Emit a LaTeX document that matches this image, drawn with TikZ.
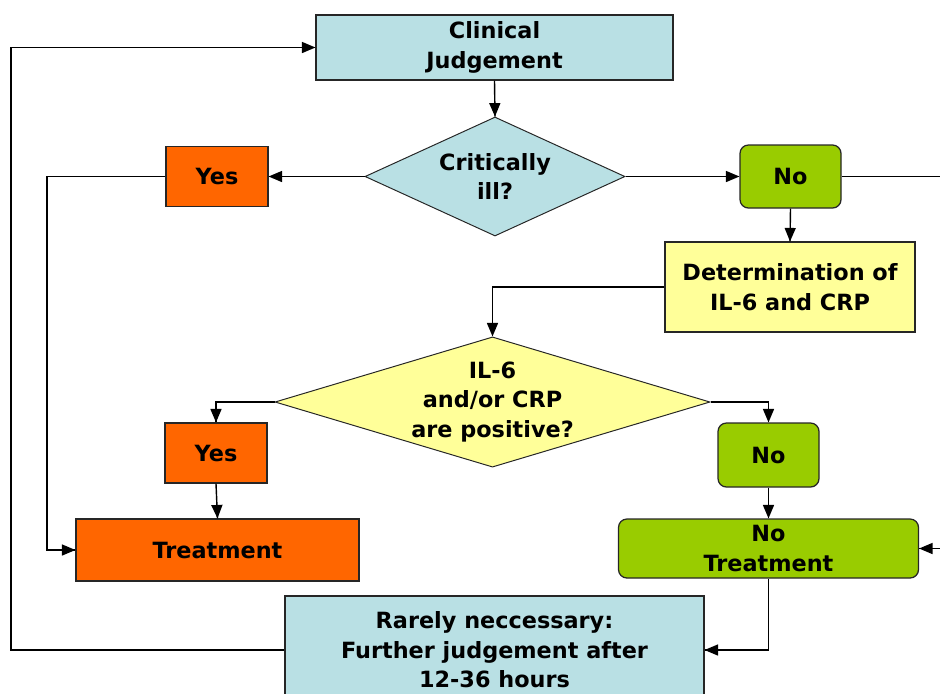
\documentclass[tikz,border=0pt]{standalone}
\usepackage{fontspec}
\setmainfont{DejaVu Sans}
\usetikzlibrary{arrows}
\usetikzlibrary{decorations.markings}
\usetikzlibrary{shapes.geometric}
\definecolor{ice}{HTML}{B9E0E4}
\definecolor{tangerine}{HTML}{FF6600}
\definecolor{lime}{HTML}{99CC00}
\definecolor{lemon}{HTML}{FFFF99}
\newcommand{\px}{0.025cm}
\tikzset{box/.style = {draw = black!85, line width = 0.9pt, align = center, inner sep = 0,
                       font = \fontsize{15.9}{21}\selectfont\bfseries}}
\tikzset{decide/.style = {box, diamond, inner sep = -20pt, line width = 0.7pt}}
\tikzset{soft/.style = {rounded corners = 6pt}}
\tikzset{link/.style = {line width = 1pt,
                        decoration = {markings,
                                      mark = at position 1 with {\arrow[scale=1.1]{triangle 45}}},
                        postaction = {decorate}}}

\begin{document}
\begin{tikzpicture}[x=\px, y=-\px]
      \useasboundingbox (0, 0) rectangle (940, 693);
      \clip (0, 0) rectangle (940, 693);
      \node [box, fill = ice, minimum width = 357*\px, minimum height = 65*\px] (judge) at (494.5, 47.5) {Clinical\\Judgement};
      \node [decide, fill = ice, minimum width = 260*\px, minimum height = 119*\px] (ill) at (495, 176.5) {Critically\\ill?};
      \node [box, fill = tangerine, minimum width = 102*\px, minimum height = 60*\px] (yesA) at (217, 176.5) {Yes};
      \node [box, soft, fill = lime, minimum width = 101*\px, minimum height = 63*\px] (noA) at (790.5, 176.5) {No};
      \node [box, fill = lemon, minimum width = 250*\px, minimum height = 90*\px] (measure) at (790, 287) {Determination of\\IL-6 and CRP};
      \node [decide, fill = lemon, minimum width = 435*\px, minimum height = 130*\px] (positive) at (492.5, 402) {IL-6\\and/or CRP\\are positive?};
      \node [box, fill = tangerine, minimum width = 102*\px, minimum height = 60*\px] (yesB) at (216, 453) {Yes};
      \node [box, soft, fill = lime, minimum width = 101*\px, minimum height = 64*\px] (noB) at (768.5, 455) {No};
      \node [box, fill = tangerine, minimum width = 283*\px, minimum height = 62*\px] (treat) at (217.5, 550) {Treatment};
      \node [box, soft, fill = lime, minimum width = 300*\px, minimum height = 59*\px] (notreat) at (768.5, 548.5) {No\\Treatment};
      \node [box, fill = ice, minimum width = 419*\px, minimum height = 108*\px] (later) at (494.5, 650) {Rarely neccessary:\\Further judgement after\\12-36 hours};
      \coordinate (bendA) at (47, 176.5);
      \coordinate (bendB) at (11, 650);
      \coordinate (edgeA) at (945, 176.5);
      \coordinate (edgeB) at (945, 548.5);
      \draw [link] (judge.south) -- (ill.north);
      \draw [link] (ill.west) -- (yesA.east);
      \draw [link] (ill.east) -- (noA.west);
      \draw [line width = 1pt] (noA.east) -- (edgeA);
      \draw [link] (noA.south) -- (measure.north);
      \draw [link] (measure.west) -| (positive.north);
      \draw [link] (positive.west) -| (yesB.north);
      \draw [link] (positive.east) -| (noB.north);
      \draw [link] (yesB.south) -- (treat.north);
      \draw [link] (noB.south) -- (notreat.north);
      \draw [link] (yesA.west) -- (bendA) |- (treat.west);
      \draw [link] (edgeB) -- (notreat.east);
      \draw [link] (notreat.south) |- (later.east);
      \draw [link] (later.west) -- (bendB) |- (judge.west);
    \end{tikzpicture}
\end{document}
